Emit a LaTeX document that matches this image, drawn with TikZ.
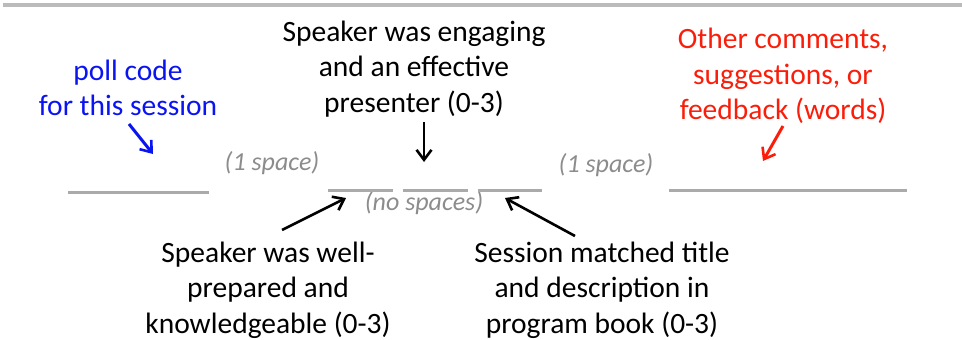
\documentclass[tikz,border=0pt]{standalone}
\usepackage{fontspec}
\setmainfont{Carlito}
\usetikzlibrary{arrows.meta}
\definecolor{blankgray}{HTML}{AAAAAA}
\definecolor{notegray}{HTML}{8C8C8C}
\definecolor{pollblue}{HTML}{0A14F0}
\definecolor{fbred}{HTML}{FA1E0A}
\tikzset{
  label text/.style={align=center, inner sep=0pt, font=\fontsize{29.5}{35.5}\selectfont},
  note text/.style={inner sep=0pt, text=notegray, font=\fontsize{26}{30}\selectfont\itshape},
  blank/.style={draw=blankgray, line width=3pt},
  pointer/.style={line width=2.6pt, -{Straight Barb[length=10pt,width=15pt,line width=2.6pt]}},
}
\begin{document}
\begin{tikzpicture}[x=1pt,y=-1pt]
\useasboundingbox (0,0) rectangle (962,340);
% top rule
\coordinate (ruleL) at (3,5);
\coordinate (ruleR) at (962,5);
\draw[draw=blankgray!80, line width=3.5pt] (ruleL) -- (ruleR);

% texts
\node[label text, text=pollblue] (poll) at (128,88) {poll code\\for this session};
\node[label text] (engaging) at (414,69) {Speaker was engaging\\and an effective\\presenter (0-3)};
\node[label text, text=fbred] (other) at (783,76) {Other comments,\\suggestions, or\\feedback (words)};
\node[label text] (prepared) at (268,290) {Speaker was well-\\prepared and\\knowledgeable (0-3)};
\node[label text] (session) at (602,290) {Session matched title\\and description in\\program book (0-3)};

\node[note text] (space1) at (272,163) {(1 space)};
\node[note text] (nospace) at (424,203) {(no spaces)};
\node[note text] (space2) at (606,165) {(1 space)};

% blanks
\coordinate (b1L) at (68,192); \coordinate (b1R) at (209,192);
\coordinate (b2L) at (328,190); \coordinate (b2R) at (393,190);
\coordinate (b3L) at (403,190); \coordinate (b3R) at (468,190);
\coordinate (b4L) at (478,190); \coordinate (b4R) at (542,190);
\coordinate (b5L) at (669,190); \coordinate (b5R) at (907,190);
\draw[blank] (b1L) -- (b1R);
\draw[blank] (b2L) -- (b2R);
\draw[blank] (b3L) -- (b3R);
\draw[blank] (b4L) -- (b4R);
\draw[blank] (b5L) -- (b5R);

% arrow targets
\coordinate (pollTip) at (153,154);
\coordinate (engTip) at (424,162);
\coordinate (otherTip) at (763,161);
\coordinate (prepTip) at (346,198);
\coordinate (sessTip) at (505,198);

\coordinate (pollStart) at (129,124);
\coordinate (engStart) at (424,122);
\coordinate (otherStart) at (783,126);
\coordinate (prepStart) at (282,230);
\coordinate (sessStart) at (575,236);

\draw[pointer, draw=pollblue, line width=3pt] (pollStart) -- (pollTip);
\draw[pointer] (engStart) -- (engTip);
\draw[pointer, draw=fbred, line width=3pt] (otherStart) -- (otherTip);
\draw[pointer] (prepStart) -- (prepTip);
\draw[pointer] (sessStart) -- (sessTip);
\end{tikzpicture}
\end{document}
